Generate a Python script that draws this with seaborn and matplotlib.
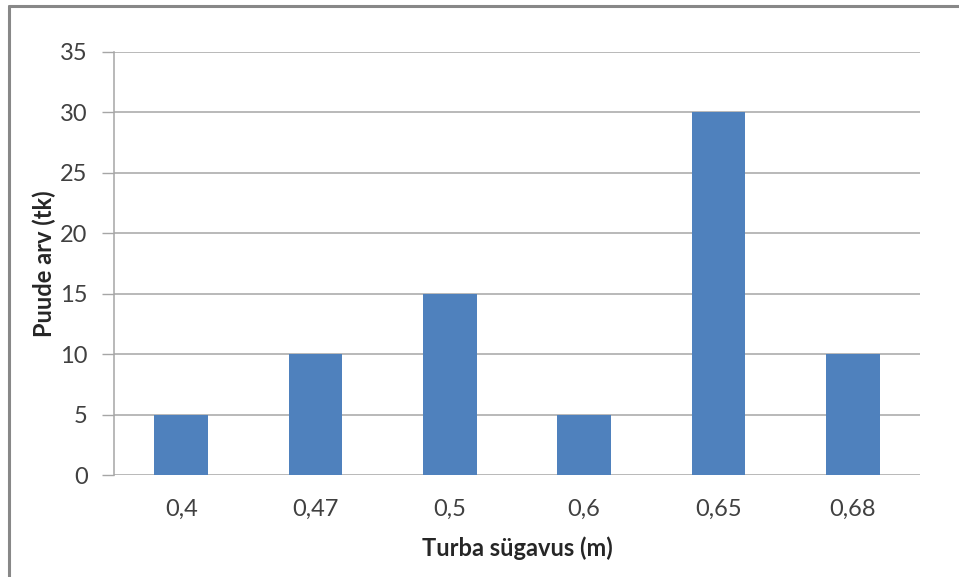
import matplotlib
matplotlib.use("Agg")
import matplotlib.pyplot as plt
from matplotlib.lines import Line2D
import seaborn as sns
import pandas as pd

depths = ["0,4", "0,47", "0,5", "0,6", "0,65", "0,68"]
tree_counts = [5, 10, 15, 5, 30, 10]
y_ticks = [0, 5, 10, 15, 20, 25, 30, 35]

sns.set_theme(style="white")
plt.rcParams["font.family"] = ["Lato", "DejaVu Sans"]

df = pd.DataFrame({"depth": depths, "count": tree_counts})

fig = plt.figure(figsize=(9.59, 5.77), dpi=100)
ax = fig.add_axes([114 / 959, 1 - 475 / 577, (920 - 114) / 959, (475 - 52) / 577])

ax.set_axisbelow(True)
for t in y_ticks:
    ax.axhline(t, color="#a6a6a6", lw=1.1, zorder=0)

sns.barplot(data=df, x="depth", y="count", color="#4F81BD", saturation=1,
            width=0.4, ax=ax, zorder=2, edgecolor="none", linewidth=0)

ax.set_ylim(0, 35)
ax.set_xlim(-0.5, len(depths) - 0.5)
ax.set_yticks(y_ticks)
ax.tick_params(axis="y", length=9, width=1, color="#a6a6a6", pad=10,
               labelsize=17, labelcolor="#404040", left=True)
ax.tick_params(axis="x", length=0, pad=17, labelsize=17, labelcolor="#404040")

for s in ["top", "right", "bottom"]:
    ax.spines[s].set_visible(False)
ax.spines["left"].set_color("#a6a6a6")
ax.spines["left"].set_linewidth(1.1)

ax.set_xlabel("Turba sügavus (m)", fontsize=17, fontweight="bold", labelpad=12)
ax.set_ylabel("Puude arv (tk)", fontsize=17, fontweight="bold", labelpad=3)

# chart frame
fig.add_artist(Line2D([8.5 / 959, 8.5 / 959], [0, 1 - 6 / 577], transform=fig.transFigure,
                      color="#888888", lw=2.2))
fig.add_artist(Line2D([8.5 / 959, 1], [1 - 6 / 577, 1 - 6 / 577], transform=fig.transFigure,
                      color="#888888", lw=2.2))

fig.savefig("out.png", dpi=100)
